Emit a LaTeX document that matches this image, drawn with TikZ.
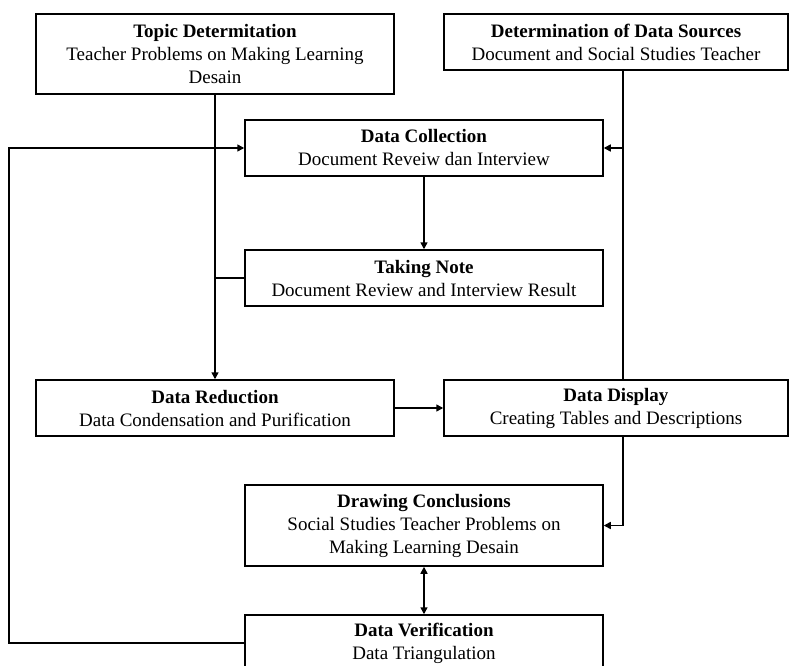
\documentclass[tikz,border=0pt]{standalone}
\usepackage{fontspec}
\setmainfont{Liberation Serif}
\usetikzlibrary{arrows.meta}
\begin{document}
\begin{tikzpicture}[x=1pt,y=-1pt,
 box/.style={draw,line width=1.5pt,rectangle,align=center,inner sep=0pt,font=\fontsize{19}{23}\selectfont},
 conn/.style={line width=1.5pt},
 tip/.tip={Triangle[length=7pt,width=7pt]},
 arr/.style={conn,-tip},
 darr/.style={conn,tip-tip}]
\useasboundingbox (0,0) rectangle (790,666);
\clip (0,0) rectangle (790,666);
\node[box,minimum width=358pt,minimum height=80pt] (topic) at (215,54) {\textbf{Topic Determitation}\\Teacher Problems on Making Learning\\Desain};
\node[box,minimum width=344pt,minimum height=56pt] (dets) at (616,42) {\textbf{Determination of Data Sources}\\Document and Social Studies Teacher};
\node[box,minimum width=358pt,minimum height=56pt] (coll) at (424,148) {\textbf{Data Collection}\\Document Reveiw dan Interview};
\node[box,minimum width=358pt,minimum height=56pt] (note) at (424,278) {\textbf{Taking Note}\\Document Review and Interview Result};
\node[box,minimum width=358pt,minimum height=56pt] (red) at (215,408) {\textbf{Data Reduction}\\Data Condensation and Purification};
\node[box,minimum width=344pt,minimum height=56pt] (disp) at (616,408) {\textbf{Data Display}\\Creating Tables and Descriptions};
\node[box,minimum width=358pt,minimum height=81pt] (concl) at (424,525.5) {\textbf{Drawing Conclusions}\\Social Studies Teacher Problems on\\Making Learning Desain};
\node[box,minimum width=358pt,minimum height=56pt] (ver) at (424,643) {\textbf{Data Verification}\\Data Triangulation};
\coordinate (dx) at (623,0);
\coordinate (lx) at (9,0);
\draw[arr] (topic.south) -- (red.north);
\draw[conn] (note.west) -- (note.west -| topic.south);
\draw[arr] (coll.south) -- (note.north);
\draw[conn] (dets.south -| dx) -- (disp.north -| dx);
\draw[arr] (coll.east -| dx) -- (coll.east);
\draw[arr] (red.east) -- (disp.west);
\draw[arr] (disp.south -| dx) |- (concl.east);
\draw[darr] (concl.south) -- (ver.north);
\draw[arr] (ver.west) -- (ver.west -| lx) |- (coll.west);
\end{tikzpicture}
\end{document}
